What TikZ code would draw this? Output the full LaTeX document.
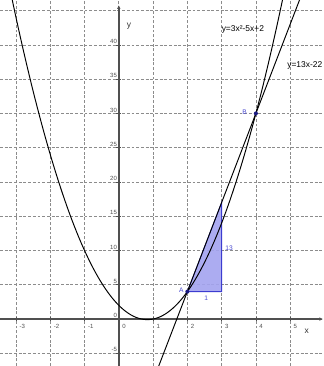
\documentclass[tikz,border=0pt]{standalone}
\usepackage{fontspec}
\setmainfont{Liberation Sans}
\usetikzlibrary{arrows.meta}
\definecolor{gridc}{HTML}{8C8C8C}
\definecolor{axisc}{HTML}{505050}
\definecolor{ptc}{HTML}{1A1A80}
\definecolor{labc}{HTML}{4A4AD0}
\definecolor{trifill}{HTML}{A4A4F0}
\definecolor{tricol}{HTML}{3C3CD0}
\tikzset{
  gridline/.style={gridc, line width=0.65pt, dash pattern=on 2.4pt off 1.5pt},
  axisline/.style={axisc, line width=1.3pt},
  curve/.style={black, line width=0.8pt},
  ticklab/.style={text=axisc, font=\fontsize{5}{6}\selectfont, inner sep=0.5pt},
  axlab/.style={text=black!80, font=\fontsize{7}{8}\selectfont, inner sep=0.5pt},
  eqlab/.style={text=black, font=\fontsize{7}{8}\selectfont, inner sep=0.5pt},
  ptlab/.style={text=labc, font=\fontsize{5.5}{6}\selectfont, inner sep=0.5pt},
  dot/.style={circle, fill=ptc, inner sep=0pt, minimum size=3.4pt},
}
\begin{document}
\begin{tikzpicture}[x=1cm, y=0.2cm]
\useasboundingbox (-3.467,-6.85) rectangle (5.96,46.55);
\fill[white] (-3.467,-6.85) rectangle (5.96,46.55);
% grid
\foreach \i in {-3,...,5} \draw[gridline] (\i,-6.85) -- (\i,46.55);
\foreach \j in {-5,0,...,45} \draw[gridline] (-3.467,\j) -- (5.96,\j);
% axes
\coordinate (xs) at (-3.467,0);
\coordinate (xe) at (5.96,0);
\coordinate (ys) at (0,-6.85);
\coordinate (ye) at (0,45.8);
\draw[axisline, -{Latex[length=3pt,width=3pt]}] (xs) -- (xe);
\draw[axisline, -{Latex[length=3pt,width=3pt]}] (ys) -- (ye);
% ticks
\foreach \i in {-3,...,5} \draw[axisc, line width=0.6pt] (\i,-0.35) -- (\i,0.35);
\foreach \j in {-5,5,10,...,40} \draw[axisc, line width=0.6pt] (-0.07,\j) -- (0.07,\j);
% tick labels
\foreach \i in {-3,-2,-1,0,1,2,3,4,5} \node[ticklab, anchor=west] (tx\i) at (\i+0.08,-1.1) {\i};
\foreach \j in {-5,0,5,10,15,20,25,30,35,40} \node[ticklab, anchor=east] (ty\j) at (-0.03,\j+0.5) {\j};
\node[axlab] (xlab) at (5.48,-1.75) {x};
\node[axlab] (ylab) at (0.3,42.8) {y};
% triangle
\coordinate (T1) at (2,4);
\coordinate (T2) at (3,4);
\coordinate (T3) at (3,17);
\filldraw[fill=trifill, fill opacity=0.9, draw=tricol, line width=0.7pt] (T1) -- (T2) -- (T3) -- cycle;
\node[ptlab] (one) at (2.55,3.0) {1};
\node[ptlab] (thirteen) at (3.22,10.4) {13};
% curves
\begin{scope}
\clip (-3.467,-6.85) rectangle (5.96,46.55);
\draw[curve, domain=-3.2:4.9, samples=120] plot (\x,{3*\x*\x-5*\x+2});
\draw[curve] (1.0,-9) -- (5.4,48.2);
\end{scope}
% points
\node[dot] (A) at (2,4) {};
\node[dot] (B) at (4,30) {};
\node[ptlab, anchor=east] (Alab) at ([xshift=-0.5pt,yshift=1.2pt]A.west) {A};
\node[ptlab, anchor=east] (Blab) at ([xshift=-5pt,yshift=1pt]B.west) {B};
% equations
\node[eqlab] (eq1) at (3.62,42.3) {y=3x²-5x+2};
\node[eqlab, anchor=east] (eq2) at (5.96,37.0) {y=13x-22};
\end{tikzpicture}
\end{document}
